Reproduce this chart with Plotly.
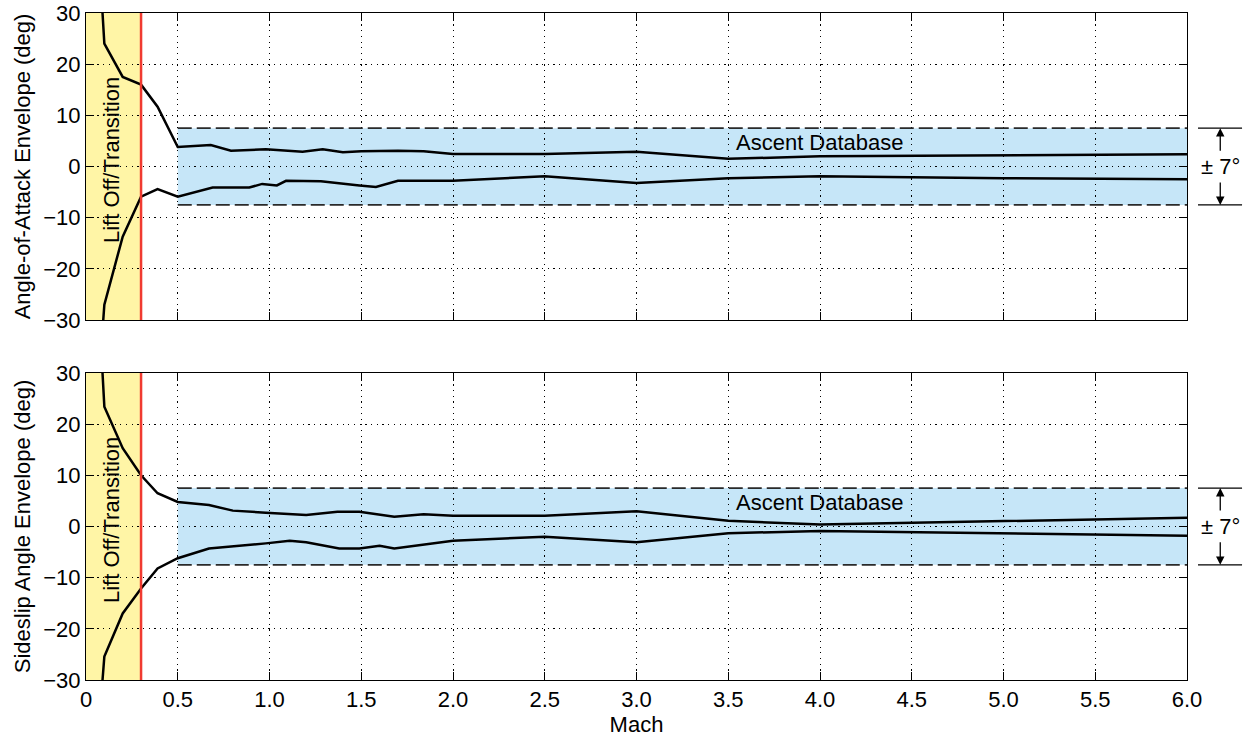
import plotly.graph_objects as go

# ---------------- data ----------------
aoa_up_mach = [0.09, 0.10, 0.20, 0.30, 0.39, 0.50, 0.68, 0.79, 0.98, 1.18, 1.29, 1.40, 1.50, 1.70, 1.84, 2.00, 2.50, 3.00, 3.50, 4.00, 6.00]
aoa_up_val = [30, 24.0, 17.5, 16.0, 11.7, 3.8, 4.2, 3.1, 3.35, 2.9, 3.35, 2.8, 3.0, 3.1, 3.0, 2.45, 2.45, 2.9, 1.5, 2.0, 2.4]

aoa_lo_mach = [0.094, 0.10, 0.20, 0.30, 0.39, 0.50, 0.69, 0.89, 0.96, 1.04, 1.09, 1.28, 1.49, 1.58, 1.70, 2.00, 2.50, 3.00, 3.50, 4.00, 5.00, 6.00]
aoa_lo_val = [-30, -27, -13.7, -5.9, -4.4, -5.9, -4.1, -4.1, -3.4, -3.7, -2.8, -2.9, -3.7, -4.0, -2.8, -2.8, -1.9, -3.2, -2.3, -1.9, -2.3, -2.5]

ss_up_mach = [0.09, 0.10, 0.20, 0.30, 0.39, 0.50, 0.67, 0.80, 0.98, 1.20, 1.37, 1.49, 1.68, 1.84, 2.00, 2.50, 3.00, 3.50, 4.00, 6.00]
ss_up_val = [30, 23.4, 15.3, 10.0, 6.5, 4.8, 4.2, 3.1, 2.7, 2.25, 2.9, 2.9, 1.9, 2.4, 2.1, 2.1, 3.0, 1.1, 0.4, 1.7]

ss_lo_mach = [0.09, 0.10, 0.20, 0.30, 0.39, 0.50, 0.67, 0.80, 0.98, 1.11, 1.20, 1.38, 1.49, 1.60, 1.68, 2.00, 2.50, 3.00, 3.50, 4.00, 6.00]
ss_lo_val = [-30, -25.4, -17.0, -12.1, -8.2, -6.2, -4.3, -3.9, -3.3, -2.8, -3.1, -4.3, -4.3, -3.75, -4.3, -2.8, -2.0, -3.1, -1.3, -0.9, -1.8]

x_tickvals = [0, 0.5, 1.0, 1.5, 2.0, 2.5, 3.0, 3.5, 4.0, 4.5, 5.0, 5.5, 6.0]
x_ticktext = ["0", "0.5", "1.0", "1.5", "2.0", "2.5", "3.0", "3.5", "4.0", "4.5", "5.0", "5.5", "6.0"]
y_tickvals = [-30, -20, -10, 0, 10, 20, 30]

liftoff_end = 0.3
band_start = 0.5
band_end = 6.0
band_hi = 7.5
band_lo = -7.5

# ---------------- figure ----------------
FONT = "Liberation Sans, Arial, Helvetica, sans-serif"
fig = go.Figure()

line_style = dict(color="black", width=2.5)
fig.add_trace(go.Scatter(x=aoa_up_mach, y=aoa_up_val, mode="lines", line=line_style, xaxis="x", yaxis="y", showlegend=False))
fig.add_trace(go.Scatter(x=aoa_lo_mach, y=aoa_lo_val, mode="lines", line=line_style, xaxis="x", yaxis="y", showlegend=False))
fig.add_trace(go.Scatter(x=ss_up_mach, y=ss_up_val, mode="lines", line=line_style, xaxis="x2", yaxis="y2", showlegend=False))
fig.add_trace(go.Scatter(x=ss_lo_mach, y=ss_lo_val, mode="lines", line=line_style, xaxis="x2", yaxis="y2", showlegend=False))

shapes = []
annotations = []
for xr, yr, in [("x", "y"), ("x2", "y2")]:
    # yellow lift-off region
    shapes.append(dict(type="rect", xref=xr, yref=yr, x0=0, x1=liftoff_end, y0=-30, y1=30,
                       fillcolor="#FFF5A6", line=dict(width=0), layer="below"))
    # blue ascent database band
    shapes.append(dict(type="rect", xref=xr, yref=yr, x0=band_start, x1=band_end, y0=band_lo, y1=band_hi,
                       fillcolor="#C6E6F8", line=dict(width=0), layer="below"))
    # dashed band limits
    for yv in (band_hi, band_lo):
        shapes.append(dict(type="line", xref=xr, yref=yr, x0=band_start, x1=band_end, y0=yv, y1=yv,
                           line=dict(color="#2a2a2a", width=1.6, dash="14px,5px")))
        # outside reference lines
        shapes.append(dict(type="line", xref="paper", yref=yr, x0=1.010, x1=1.050, y0=yv, y1=yv,
                           line=dict(color="black", width=1.2)))
    # red transition line
    shapes.append(dict(type="line", xref=xr, yref=yr, x0=liftoff_end, x1=liftoff_end, y0=-30, y1=30,
                       line=dict(color="#F03A30", width=2.5)))
    annotations.append(dict(xref=xr, yref=yr, x=4.0, y=4.6, text="Ascent Database", showarrow=False,
                            font=dict(family=FONT, size=22, color="black")))
    annotations.append(dict(xref=xr, yref=yr, x=0.14, y=1.2, text="Lift Off/Transition", showarrow=False,
                            textangle=-90, font=dict(family=FONT, size=22, color="black")))
    annotations.append(dict(xref="paper", yref=yr, x=1.0302, y=0, text="± 7°", showarrow=False,
                            xanchor="center", yanchor="middle",
                            font=dict(family=FONT, size=22, color="black")))
    for yv, off in ((band_hi, 24), (band_lo, -24)):
        annotations.append(dict(xref="paper", yref=yr, x=1.0302, y=yv, text="", showarrow=True,
                                axref="pixel", ayref="pixel", ax=0, ay=off,
                                arrowhead=2, arrowsize=1.3, arrowwidth=1.3, arrowcolor="black"))

fig.update_layout(shapes=shapes, annotations=annotations)

common_x = dict(range=[0, 6], tickvals=x_tickvals, ticktext=x_ticktext, ticks="inside", ticklen=8,
                tickcolor="black", showline=True, linecolor="black", linewidth=1, mirror="ticks",
                showgrid=True, gridcolor="black", gridwidth=1, griddash="1.2px,4.5px", zeroline=False,
                tickfont=dict(family=FONT, size=22, color="black"))
common_y = dict(range=[-30, 30], tickvals=y_tickvals, ticks="inside", ticklen=8,
                tickcolor="black", showline=True, linecolor="black", linewidth=1, mirror="ticks",
                showgrid=True, gridcolor="black", gridwidth=1, griddash="1.2px,4.5px", zeroline=False,
                tickfont=dict(family=FONT, size=22, color="black"))

fig.update_layout(
    width=1250, height=740,
    margin=dict(l=86, r=63, t=13, b=60, autoexpand=False),
    paper_bgcolor="white", plot_bgcolor="white",
    font=dict(family=FONT, size=22, color="black"),
    xaxis=dict(common_x, domain=[0, 1], anchor="y", showticklabels=False),
    yaxis=dict(common_y, domain=[0.5397, 1.0], anchor="x",
               title=dict(text="Angle-of-Attack Envelope (deg)", font=dict(family=FONT, size=22), standoff=6)),
    xaxis2=dict(common_x, domain=[0, 1], anchor="y2",
                title=dict(text="Mach", font=dict(family=FONT, size=22), standoff=2)),
    yaxis2=dict(common_y, domain=[0, 0.4603], anchor="x2",
                title=dict(text="Sideslip Angle Envelope (deg)", font=dict(family=FONT, size=22), standoff=6)),
)

fig.write_html("out.html")
